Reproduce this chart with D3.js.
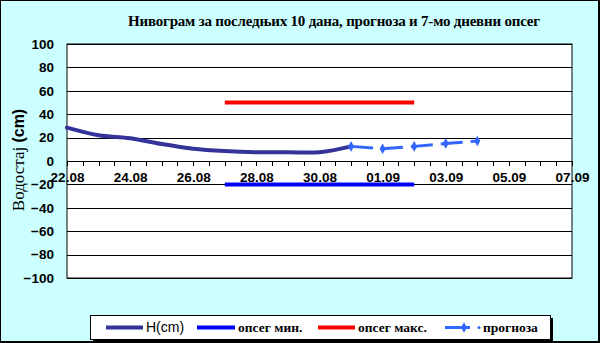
<!DOCTYPE html>
<meta charset="utf-8">
<script src="https://d3js.org/d3.v7.min.js"></script>
<style>
body { margin: 0; }
.tick text { font-family: Arial, "Liberation Sans", sans-serif; font-weight: bold; font-size: 13.5px; fill: #000; }
</style>
<body>
<script>
// data
var hDates = ["22.08","23.08","24.08","25.08","26.08","27.08","28.08","29.08","30.08","31.08"];
var hValues = [28.5, 22, 19.5, 14.5, 10.5, 8.5, 7.5, 7.5, 7.5, 12.5];
var forecastDates = ["31.08","01.09","02.09","03.09","04.09"];
var forecastValues = [12.5, 10.5, 12.5, 15, 17];
var rangeDates = ["27.08","02.09"];
var minValues = [-20, -20];
var maxValues = [50, 50];
var xTickLabels = ["22.08","24.08","26.08","28.08","30.08","01.09","03.09","05.09","07.09"];
var yTicks = [100, 80, 60, 40, 20, 0, -20, -40, -60, -80, -100];

var W = 600, H = 343;
var parse = d3.timeParse("%d.%m");
var fmt = d3.timeFormat("%d.%m");

var svg = d3.select("body").append("svg").attr("width", W).attr("height", H);

// background + frame
svg.append("rect").attr("x", 0).attr("y", 0).attr("width", W).attr("height", H).attr("fill", "#000");
svg.append("rect").attr("x", 1).attr("y", 1).attr("width", W - 3).attr("height", H - 3).attr("fill", "#ccffff");

var x = d3.scaleTime().domain([parse("22.08"), parse("07.09")]).range([67, 572]);
var y = d3.scaleLinear().domain([-100, 100]).range([278, 44]);

// plot area
svg.append("rect").attr("x", x.range()[0]).attr("y", y(100))
    .attr("width", x.range()[1] - x.range()[0]).attr("height", y(-100) - y(100))
    .attr("fill", "#fff").attr("stroke", "#000").attr("stroke-width", 1);

// gridlines + y axis
svg.append("g").attr("transform", "translate(" + x.range()[0] + ",0)")
    .call(d3.axisLeft(y).tickValues(yTicks).tickSize(-(x.range()[1] - x.range()[0])).tickPadding(13))
    .call(function(g) {
        g.select(".domain").remove();
        g.selectAll(".tick line").attr("stroke", "#000").attr("shape-rendering", "crispEdges");
    });

// x axis: half-day tick marks, labels every 2 days
var halfDays = d3.timeHour.every(12).range(parse("22.08"), d3.timeHour.offset(parse("07.09"), 1));
svg.append("g").attr("transform", "translate(0," + y(0) + ")")
    .call(d3.axisBottom(x).tickValues(halfDays).tickSize(5).tickFormat(""))
    .call(function(g) {
        g.select(".domain").attr("stroke", "#000").attr("shape-rendering", "crispEdges");
        g.selectAll(".tick line").attr("stroke", "#000").attr("shape-rendering", "crispEdges");
    });
svg.append("g").attr("transform", "translate(0," + y(0) + ")")
    .call(d3.axisBottom(x).tickValues(xTickLabels.map(parse)).tickSize(0).tickPadding(11).tickFormat(fmt))
    .call(function(g) { g.select(".domain").remove(); });

// series
var hData = hDates.map(function(d, i) { return {date: parse(d), value: hValues[i]}; });
var fData = forecastDates.map(function(d, i) { return {date: parse(d), value: forecastValues[i]}; });
var minData = rangeDates.map(function(d, i) { return {date: parse(d), value: minValues[i]}; });
var maxData = rangeDates.map(function(d, i) { return {date: parse(d), value: maxValues[i]}; });

var line = d3.line().x(function(d) { return x(d.date); }).y(function(d) { return y(d.value); });
var smooth = d3.line().curve(d3.curveCatmullRom.alpha(0.5))
    .x(function(d) { return x(d.date); }).y(function(d) { return y(d.value); });

svg.append("path").datum(minData).attr("d", line).attr("fill", "none")
    .attr("stroke", "#0000ff").attr("stroke-width", 4);
svg.append("path").datum(maxData).attr("d", line).attr("fill", "none")
    .attr("stroke", "#ff0000").attr("stroke-width", 4);
svg.append("path").datum(hData).attr("d", smooth).attr("fill", "none")
    .attr("stroke", "#333399").attr("stroke-width", 4).attr("stroke-linecap", "round");
svg.append("path").datum(fData).attr("d", line).attr("fill", "none")
    .attr("stroke", "#3366ff").attr("stroke-width", 3).attr("stroke-dasharray", "22,8");

var diamond = d3.symbol().type(d3.symbolDiamond).size(32);
svg.selectAll(".fmark").data(fData).enter().append("path").attr("class", "fmark")
    .attr("d", diamond)
    .attr("transform", function(d) { return "translate(" + x(d.date) + "," + y(d.value) + ")"; })
    .attr("fill", "#3366ff");

// title
svg.append("text").attr("x", 334).attr("y", 26).attr("text-anchor", "middle")
    .style("font-family", "'Liberation Serif', 'Times New Roman', serif")
    .style("font-weight", "bold").style("font-size", "15px").style("letter-spacing", "-0.2px")
    .text("Нивограм за последњих 10 дана, прогноза и 7-мо дневни опсег");

// y label
var yl = svg.append("text").attr("transform", "translate(24,160) rotate(-90)").attr("text-anchor", "middle");
yl.append("tspan").style("font-family", "'Liberation Serif', serif").style("font-size", "17px").text("Водостај ");
yl.append("tspan").style("font-family", "Arial, 'Liberation Sans', sans-serif").style("font-weight", "bold")
    .style("font-size", "16px").text("(cm)");

// legend
var lg = svg.append("g");
lg.append("rect").attr("x", 93).attr("y", 318).attr("width", 460).attr("height", 24).attr("fill", "#000");
lg.append("rect").attr("x", 90.5).attr("y", 315.5).attr("width", 460).attr("height", 24)
    .attr("fill", "#fff").attr("stroke", "#000");
var items = [
    {name: "H(cm)", color: "#333399", x0: 106, x1: 143, sans: true},
    {name: "опсег мин.", color: "#0000ff", x0: 197, x1: 235},
    {name: "опсег макс.", color: "#ff0000", x0: 318, x1: 355},
    {name: "прогноза", color: "#3366ff", x0: 445, x1: 470, marker: true}
];
items.forEach(function(it) {
    lg.append("line").attr("x1", it.x0).attr("x2", it.x1).attr("y1", 327.5).attr("y2", 327.5)
        .attr("stroke", it.color).attr("stroke-width", it.marker ? 3 : 4);
    var tx = it.x1 + 3;
    if (it.marker) {
        lg.append("path").attr("d", diamond).attr("transform", "translate(464,327.5)").attr("fill", it.color);
        lg.append("circle").attr("cx", 479).attr("cy", 327.5).attr("r", 1.5).attr("fill", it.color);
        tx = 483;
    }
    lg.append("text").attr("x", tx).attr("y", 332)
        .style("font-family", it.sans ? "Arial, 'Liberation Sans', sans-serif" : "'Liberation Serif', serif")
        .style("font-weight", it.sans ? "normal" : "bold")
        .style("font-size", it.sans ? "14px" : "13.5px")
        .text(it.name);
});
</script>
</body>
</html>
